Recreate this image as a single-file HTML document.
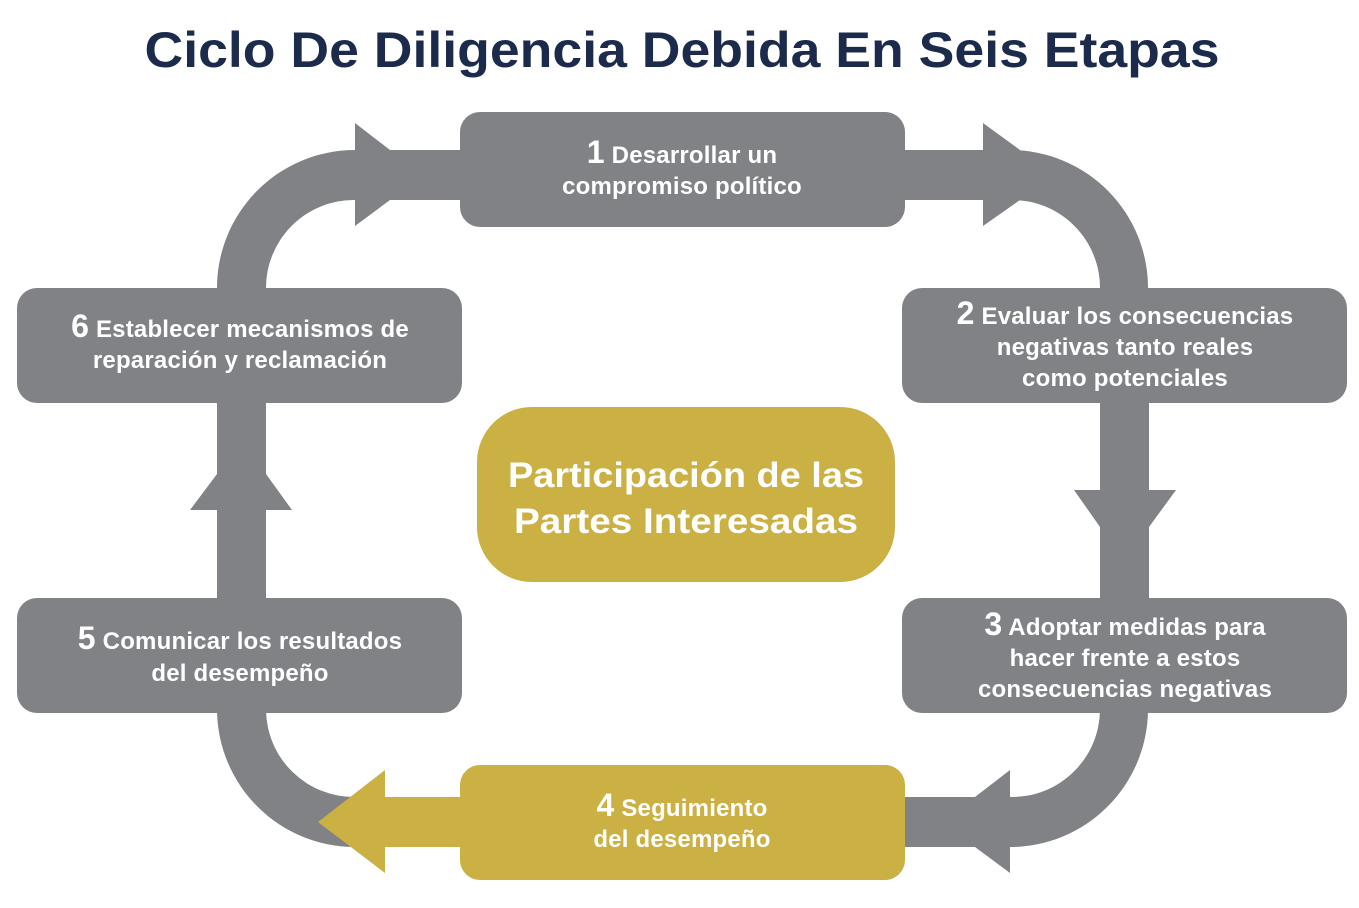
<!DOCTYPE html>
<html><head><meta charset="utf-8"><style>
body{margin:0;background:#fff;}
svg{display:block;}
text{font-family:"Liberation Sans",sans-serif;font-weight:bold;fill:#fff;text-anchor:middle;}
</style></head><body>
<svg width="1359" height="908" viewBox="0 0 1359 908">
<text x="682" y="67" font-size="50" style="fill:#1c2b4b" textLength="1075" lengthAdjust="spacingAndGlyphs">Ciclo De Diligencia Debida En Seis Etapas</text>
<g fill="#808285">
<path d="M217 290 A138 138 0 0 1 355 150 L360 150 L360 200 L355 200 A88 88 0 0 0 266 290 Z"/>
<polygon points="355,123 390,150 462,150 462,200 390,200 355,226"/>
<polygon points="903,150 983,150 983,123 1020,150 1020,200 983,226 983,200 903,200"/>
<path d="M1010 150 A138 138 0 0 1 1148 290 L1100 290 A88 88 0 0 0 1010 200 Z"/>
<rect x="1100" y="400" width="49" height="200"/>
<polygon points="1074,490 1176,490 1149,527 1100,527"/>
<path d="M1148 710 A138 138 0 0 1 1010 847 L1005 847 L1005 797 L1010 797 A88 88 0 0 0 1100 710 Z"/>
<polygon points="1010,770 975,797 903,797 903,847 975,847 1010,873"/>
<path d="M217 710 A138 138 0 0 0 355 847 L360 847 L360 797 L355 797 A88 88 0 0 1 266 710 Z"/>
<rect x="217" y="400" width="49" height="200"/>
<polygon points="190,510 292,510 266,474 217,474"/>
</g>
<polygon fill="#cbb043" points="318,822 385,770 385,797 462,797 462,847 385,847 385,873"/>
<g fill="#808285">
<rect x="460" y="112" width="445" height="115" rx="20"/>
<rect x="902" y="288" width="445" height="115" rx="20"/>
<rect x="902" y="598" width="445" height="115" rx="20"/>
<rect x="17" y="598" width="445" height="115" rx="20"/>
<rect x="17" y="288" width="445" height="115" rx="20"/>
</g>
<rect x="460" y="765" width="445" height="115" rx="20" fill="#cbb043"/>
<rect x="477" y="407" width="418" height="175" rx="55" fill="#cbb043"/>
<text x="686" y="487" font-size="35" textLength="356" lengthAdjust="spacingAndGlyphs">Participación de las</text>
<text x="686" y="533" font-size="35" textLength="344" lengthAdjust="spacingAndGlyphs">Partes Interesadas</text>
<g font-size="24" letter-spacing="0.2">
<text x="682" y="163"><tspan font-size="32">1</tspan> Desarrollar un</text>
<text x="682" y="194">compromiso político</text>
<text x="1125" y="324"><tspan font-size="32">2</tspan> Evaluar los consecuencias</text>
<text x="1125" y="355">negativas tanto reales</text>
<text x="1125" y="386">como potenciales</text>
<text x="1125" y="635"><tspan font-size="32">3</tspan> Adoptar medidas para</text>
<text x="1125" y="666">hacer frente a estos</text>
<text x="1125" y="697">consecuencias negativas</text>
<text x="682" y="816"><tspan font-size="32">4</tspan> Seguimiento</text>
<text x="682" y="847">del desempeño</text>
<text x="240" y="649"><tspan font-size="32">5</tspan> Comunicar los resultados</text>
<text x="240" y="681">del desempeño</text>
<text x="240" y="337"><tspan font-size="32">6</tspan> Establecer mecanismos de</text>
<text x="240" y="368">reparación y reclamación</text>
</g>
</svg>
</body></html>
